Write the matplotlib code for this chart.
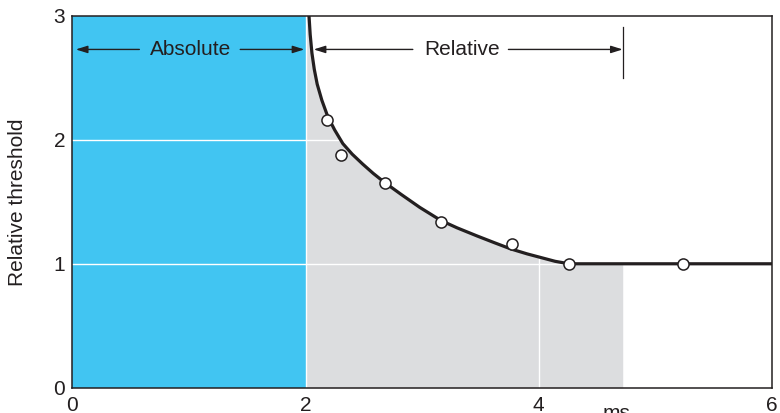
import matplotlib
matplotlib.use('Agg')
import matplotlib.pyplot as plt
from matplotlib.transforms import blended_transform_factory

plt.rcParams['font.family'] = ['Liberation Sans', 'DejaVu Sans']

# threshold curve (ms, relative threshold)
curve_x = [2.03, 2.04, 2.055, 2.075, 2.10, 2.14, 2.19, 2.25, 2.32, 2.40, 2.49, 2.58, 2.68,
           2.82, 2.98, 3.16, 3.30, 3.47, 3.62, 3.76, 3.90, 4.02, 4.14, 4.26, 6.0]
curve_y = [3.00, 2.85, 2.70, 2.57, 2.45, 2.32, 2.19, 2.08, 1.97, 1.885, 1.805, 1.73, 1.655,
           1.56, 1.455, 1.35, 1.29, 1.225, 1.17, 1.12, 1.08, 1.05, 1.02, 1.00, 1.00]

# measured points
pts_x = [2.18, 2.30, 2.68, 3.16, 3.77, 4.26, 5.24]
pts_y = [2.16, 1.88, 1.65, 1.34, 1.16, 1.00, 1.00]

absolute_end = 2.0
relative_end = 4.72

xticks = [0, 2, 4, 6]
yticks = [0, 1, 2, 3]

blue = '#41C5F2'
grey = '#DCDDDF'
ink = '#231F20'

fig = plt.figure(figsize=(7.8, 4.13), dpi=100)
ax = fig.add_axes([0.0927, 0.0613, 0.8970, 0.9000])
ax.set_xlim(0, 6)
ax.set_ylim(0, 3)

# absolute refractory period
ax.axvspan(0, absolute_end, color=blue, lw=0, zorder=1)

# relative period: grey under the curve
gx = [absolute_end] + [x for x in curve_x if x <= relative_end] + [relative_end]
gy = [3.0] + [y for x, y in zip(curve_x, curve_y) if x <= relative_end] + [1.0]
ax.fill_between(gx, 0, gy, color=grey, lw=0, zorder=1)

for v in [1, 2]:
    ax.axhline(v, color='white', lw=1.0, zorder=2)
for v in [2, 4]:
    ax.axvline(v, color='white', lw=1.0, zorder=2)

ax.plot(curve_x, curve_y, color=ink, lw=2.3, zorder=3, solid_joinstyle='round')
ax.plot(pts_x, pts_y, 'o', ms=8, mfc='white', mec=ink, mew=1.1, zorder=4)

# arrows
arr = dict(arrowstyle='-|>,head_length=0.7,head_width=0.22', color=ink, lw=1.0,
           shrinkA=0, shrinkB=0, mutation_scale=10)
ya = 2.73
ax.text(1.01, ya, 'Absolute', ha='center', va='center', fontsize=15, color=ink, zorder=5)
ax.annotate('', xy=(0.03, ya), xytext=(0.575, ya), arrowprops=arr, zorder=5)
ax.annotate('', xy=(1.99, ya), xytext=(1.44, ya), arrowprops=arr, zorder=5)

ax.text(3.34, ya, 'Relative', ha='center', va='center', fontsize=15, color=ink, zorder=5)
ax.annotate('', xy=(2.07, ya), xytext=(2.92, ya), arrowprops=arr, zorder=5)
ax.annotate('', xy=(relative_end, ya), xytext=(3.74, ya), arrowprops=arr, zorder=5)
ax.plot([relative_end, relative_end], [2.50, 2.91], color=ink, lw=0.9, zorder=5)

for s in ax.spines.values():
    s.set_color(ink)
    s.set_linewidth(1.1)

ax.set_xticks(xticks)
ax.set_yticks(yticks)
ax.tick_params(length=0, labelsize=15, colors=ink, pad=5)
ax.tick_params(axis='x', pad=6)
ax.set_ylabel('Relative threshold', fontsize=15, color=ink, labelpad=19)

trans = blended_transform_factory(ax.transData, ax.transAxes)
ax.text(4.67, -0.045, 'ms', transform=trans, ha='center', va='top', fontsize=15, color=ink)

fig.savefig('out.png', dpi=100)
